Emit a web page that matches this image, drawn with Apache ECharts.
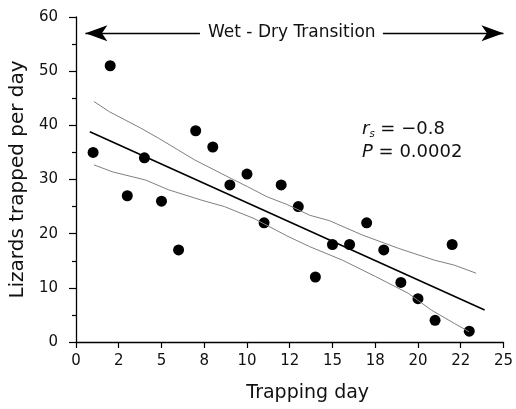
<!DOCTYPE html>
<html>
<head>
<meta charset="utf-8">
<script src="https://cdn.jsdelivr.net/npm/echarts@6/dist/echarts.min.js"></script>
<style>
  html, body { margin: 0; padding: 0; background: #fff; }
  #chart { width: 516px; height: 409px; }
</style>
</head>
<body>
<div id="chart"></div>
<script>
// trapping day / lizards trapped per day
const days = [1, 2, 3, 4, 5, 6, 7, 8, 9, 10, 11, 12, 13, 14, 15, 16, 17, 18, 19, 20, 21, 22, 23]
const lizards = [35, 51, 27, 34, 26, 17, 39, 36, 29, 31, 22, 29, 25, 12, 18, 18, 22, 17, 11, 8, 4, 18, 2]

// fitted line and confidence band
const fitLine = [[0.81, 38.8], [23.9, 5.9]]
const upperBand = [[1.05, 44.4], [1.96, 42.5], [3.78, 39.5], [4.84, 37.6], [6.95, 33.6], [9.06, 30.2],
  [10.02, 28.7], [11.18, 26.8], [12.33, 25.4], [13.67, 23.4], [14.82, 22.4], [16.75, 19.75],
  [18.85, 17.3], [20.97, 15.1], [22.12, 14.2], [23.4, 12.7]]
const lowerBand = [[1.05, 32.7], [2.15, 31.4], [4.07, 29.9], [5.41, 28.1], [7.33, 26.2], [8.68, 25.0],
  [10.41, 22.8], [12.33, 19.6], [13.67, 17.6], [15.59, 15.1], [17.51, 12.1], [19.43, 9.0],
  [20.78, 5.9], [22.12, 3.45], [22.98, 1.9]]

const xTickLabels = ['0', '2', '5', '8', '10', '12', '15', '18', '20', '22', '25']

// "Wet - Dry Transition" arrow, split around the text
const arrowY = 57
const arrowLeft = [0.55, 7.25]
const arrowRight = [17.95, 25]

const font = 'DejaVu Sans'

const chart = echarts.init(document.getElementById('chart'))

const option = {
  animation: false,
  backgroundColor: '#fff',
  grid: { left: 76, right: 6, top: 17, bottom: 67 },
  xAxis: {
    type: 'value',
    min: 0,
    max: 25,
    interval: 2.5,
    name: 'Trapping day',
    nameLocation: 'middle',
    nameGap: 42,
    nameTextStyle: { fontFamily: font, fontSize: 19, color: '#111', padding: [0, 0, 0, 36] },
    axisLine: { lineStyle: { color: '#000', width: 1.3 } },
    axisTick: { length: 6, lineStyle: { color: '#000', width: 1.2 } },
    axisLabel: {
      margin: 12,
      fontFamily: font,
      fontSize: 15,
      color: '#111',
      formatter: (v, i) => xTickLabels[i]
    },
    splitLine: { show: false }
  },
  yAxis: {
    type: 'value',
    min: 0,
    max: 60,
    interval: 10,
    name: 'Lizards trapped per day',
    nameLocation: 'middle',
    nameGap: 44,
    nameTextStyle: { fontFamily: font, fontSize: 20, color: '#111' },
    axisLine: { show: true, lineStyle: { color: '#000', width: 1.3 } },
    axisTick: { length: 7, lineStyle: { color: '#000', width: 1.2 } },
    minorTick: { show: true, splitNumber: 2, length: 4, lineStyle: { color: '#000', width: 1.2 } },
    axisLabel: { margin: 18, fontFamily: font, fontSize: 15, color: '#111' },
    splitLine: { show: false }
  },
  series: [
    {
      type: 'line',
      data: upperBand,
      showSymbol: false,
      lineStyle: { color: '#808080', width: 1 },
      silent: true
    },
    {
      type: 'line',
      data: lowerBand,
      showSymbol: false,
      lineStyle: { color: '#808080', width: 1 },
      silent: true
    },
    {
      type: 'line',
      data: fitLine,
      showSymbol: false,
      lineStyle: { color: '#000', width: 1.6 },
      silent: true
    },
    {
      type: 'scatter',
      data: days.map((d, i) => [d, lizards[i]]),
      symbolSize: 11,
      itemStyle: { color: '#000', opacity: 1 },
      markLine: {
        silent: true,
        symbolSize: [12, 22],
        lineStyle: { color: '#000', width: 1.3, type: 'solid' },
        label: { show: false },
        data: [
          [{ coord: [arrowLeft[0], arrowY], symbol: 'arrow' }, { coord: [arrowLeft[1], arrowY], symbol: 'none' }],
          [{ coord: [arrowRight[0], arrowY], symbol: 'none' }, { coord: [arrowRight[1], arrowY], symbol: 'arrow' }]
        ]
      }
    }
  ],
  graphic: [
    {
      type: 'text',
      x: 208,
      y: 33,
      style: {
        text: 'Wet - Dry Transition',
        fontFamily: font,
        fontSize: 17,
        fill: '#111',
        verticalAlign: 'middle'
      }
    },
    {
      type: 'text',
      x: 362,
      y: 129,
      style: {
        text: '{i|r}{sub|s}{n| = \u22120.8}',
        verticalAlign: 'middle',
        rich: {
          i: { fontFamily: font, fontSize: 18, fontStyle: 'italic', fill: '#111' },
          sub: { fontFamily: font, fontSize: 10, fontStyle: 'italic', fill: '#111', padding: [10, 0, 0, 0] },
          n: { fontFamily: font, fontSize: 18, fill: '#111' }
        }
      }
    },
    {
      type: 'text',
      x: 362,
      y: 152,
      style: {
        text: '{i|P}{n| = 0.0002}',
        verticalAlign: 'middle',
        rich: {
          i: { fontFamily: font, fontSize: 18, fontStyle: 'italic', fill: '#111' },
          n: { fontFamily: font, fontSize: 18, fill: '#111' }
        }
      }
    }
  ]
}

chart.setOption(option)
</script>
</body>
</html>
